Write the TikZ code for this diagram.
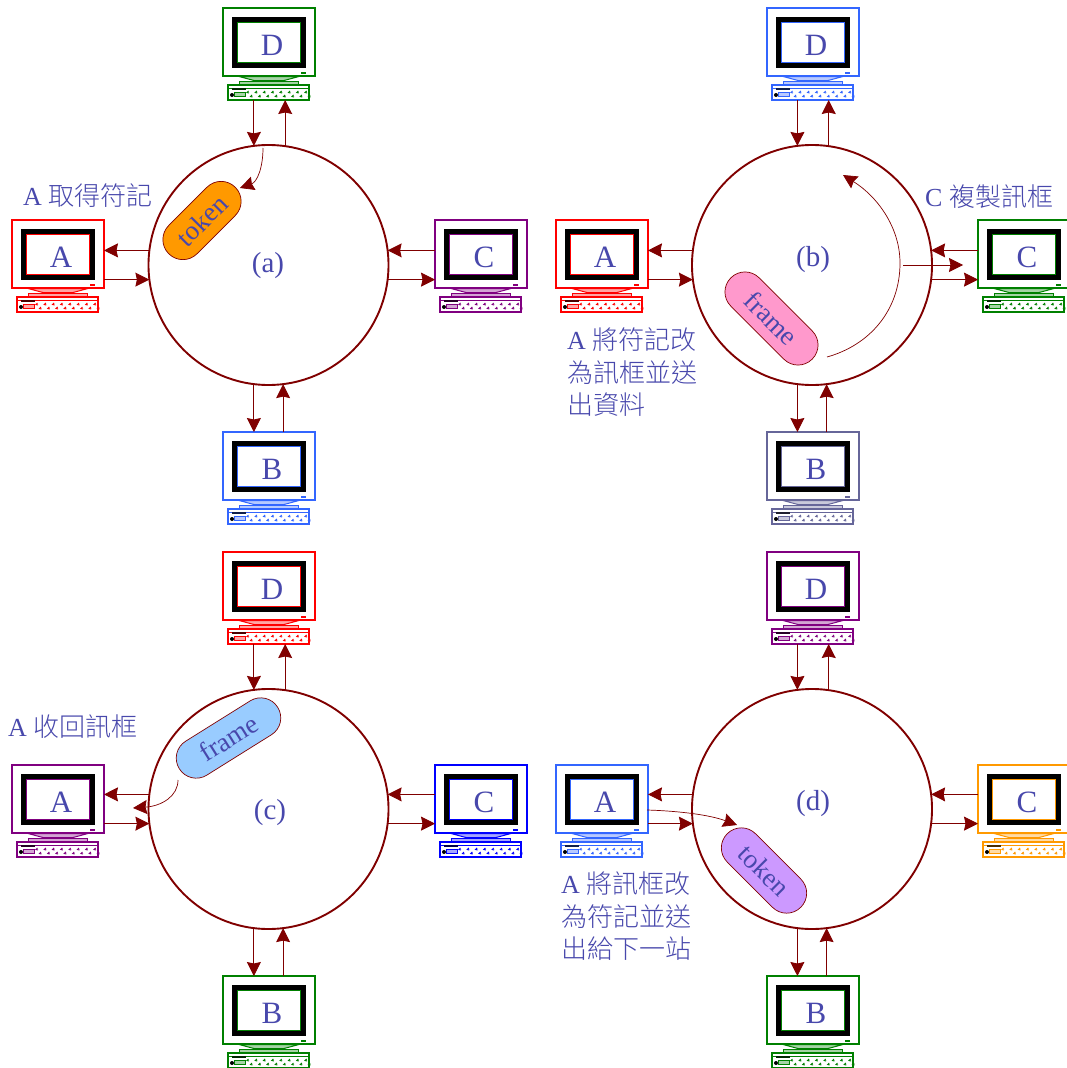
\documentclass[tikz,border=0pt]{standalone}
\usepackage{fontspec}
\setmainfont{Liberation Serif}
\IfFontExistsTF{Noto Sans CJK TC Light}{\newfontfamily\cjk{Noto Sans CJK TC Light}}{\newfontfamily\cjk{Noto Sans CJK TC}}
\usetikzlibrary{arrows.meta}
\definecolor{linkred}{HTML}{800000}
\definecolor{inkblue}{HTML}{4848AC}
\definecolor{stblue}{HTML}{3366FF}
\definecolor{stgrey}{HTML}{666699}
\definecolor{stpurple}{HTML}{800080}
\definecolor{stgreen}{HTML}{008000}
\definecolor{storange}{HTML}{FF9900}
\definecolor{caporange}{HTML}{FF9900}
\definecolor{cappink}{HTML}{FF99CC}
\definecolor{capsky}{HTML}{99CCFF}
\definecolor{caplilac}{HTML}{CC99FF}
\tikzset{
  ringnode/.style={circle,draw=linkred,line width=1.9pt,minimum size=240pt,inner sep=0pt,outer sep=0pt},
  conn/.style={draw=linkred,line width=0.9pt,-{Stealth[length=14pt,width=14pt,inset=1.5pt]}},
  flow/.style={conn,line width=0.7pt},
  monitorbox/.style={rectangle,fill=white,line width=1.5pt,minimum width=92pt,minimum height=68pt,inner sep=0pt,outer sep=0pt},
  keybox/.style={rectangle,fill=white,line width=1.5pt,minimum width=81pt,minimum height=15pt,inner sep=0pt,outer sep=0pt},
  capsule/.style={rectangle,draw=linkred,line width=0.7pt,minimum height=40pt,rounded corners=19.9pt,inner sep=0pt,text=inkblue,font=\fontsize{27}{27}\selectfont},
  stationletter/.style={text=inkblue,inner sep=0pt,font=\fontsize{31}{31}\selectfont},
  paneltag/.style={text=inkblue,inner sep=0pt,font=\fontsize{29}{29}\selectfont},
  note/.style={text=inkblue,inner sep=0pt,anchor=west,align=left,font=\fontsize{26}{32.5}\selectfont},
}
\newcommand\station[5]{%
  \begin{scope}[shift={(#2,#3)}]
    \node[monitorbox,draw=#4] (#1) at (46,34) {};
    \fill[black] (8.5,8.5) rectangle (83,60);
    \draw[#4,fill=white,line width=1pt] (14,14) rectangle (77,54.5);
    \fill[#4] (78,64) rectangle (83,66);
    \draw[#4,line width=1pt,fill=#4!35] (16,68.5) -- (31,72.5) -- (61,72.5) -- (76,68.5) -- cycle;
    \draw[#4,line width=1pt,fill=#4!35] (16,73.5) rectangle (75,76);
    \node[keybox,draw=#4] (#1-k) at (45.5,84.5) {};
    \draw[#4,line width=0.8pt] (5,80.5) -- (86,80.5);
    \fill[black!70!#4] (9,80) rectangle (23,81.5);
    \fill[black] (9,87) circle (2);
    \draw[#4,line width=0.7pt,fill=#4!35] (11,84) rectangle (22,88.5);
    \foreach \kx in {24,32.3,...,84}{
      \draw[#4,line width=1pt] (\kx+1.5,83) -- (\kx,84.5) -- (\kx+2,85);
      \draw[#4,line width=1pt] (\kx+5,87) -- (\kx+3.5,88.5) -- (\kx+5.5,89);
    }
    \node[stationletter] (#1-l) at (49,37.5) {#5};
  \end{scope}}
\newcommand\ringlinks[2]{%
  \draw[conn] (#1-D-k.south -| #1-r.#2) -- (#1-r.#2);
  \draw[conn] (#1-r.82.82) -- (#1-D-k.south -| #1-r.82.82);
  \draw[conn] (#1-r.263.2) -- (#1-B.north -| #1-r.263.2);
  \draw[conn] (#1-B.north -| #1-r.277.18) -- (#1-r.277.18);
  \draw[conn] (#1-r.173.3) -- (#1-r.173.3 -| #1-A.east);
  \draw[conn] (#1-r.187.4 -| #1-A.east) -- (#1-r.187.4);
  \draw[conn] (#1-r.7 -| #1-C.west) -- (#1-r.7);
  \draw[conn] (#1-r.-7.4) -- (#1-r.-7.4 -| #1-C.west);}
\begin{document}
\begin{tikzpicture}[x=1pt,y=-1pt]
\useasboundingbox (0,0) rectangle (1067,1068);
\clip (0,0) rectangle (1067,1068);
% panel a
\node[ringnode] (a-r) at (268.5,265) {};
\node[paneltag] (a-t) at (268,266) {(a)};
\station{a-A}{12}{220}{red}{A}
\station{a-C}{435}{220}{stpurple}{C}
\station{a-D}{223}{8}{stgreen}{D}
\station{a-B}{223}{432}{stblue}{B}
\ringlinks{a}{97}
\node[capsule,fill=caporange,minimum width=94pt,rotate=45] (a-c) at (202,220.5) {token};
\coordinate (a-s) at (263,148);
\coordinate (a-e) at (240,188);
\draw[flow] (a-s) .. controls (263,168) and (257,182) .. (a-e);
\node[note] (a-n) at (23,196) {A {\cjk 取得符記}};
% panel b
\node[ringnode] (b-r) at (812,265) {};
\node[paneltag] (b-t) at (813,260) {(b)};
\station{b-A}{556}{220}{red}{A}
\station{b-C}{978}{220}{stgreen}{C}
\station{b-D}{767}{8}{stblue}{D}
\station{b-B}{767}{432}{stgrey}{B}
\ringlinks{b}{97.18}
\node[capsule,fill=cappink,minimum width=115pt,rotate=-45] (b-c) at (771.5,318.5) {frame};
\coordinate (b-s) at (827,357);
\coordinate (b-m) at (900,263);
\coordinate (b-e) at (843,175);
\draw[flow] (b-s) .. controls (870,345) and (900,310) .. (b-m) .. controls (900,228) and (878,197) .. (b-e);
\coordinate (b-x) at (903,265);
\coordinate (b-y) at (963,265);
\draw[flow] (b-x) -- (b-y);
\node[note] (b-n) at (925,197) {C {\cjk 複製訊框}};
\node[note] (b-m2) at (567,372.5) {A {\cjk 將符記改}\\{\cjk 為訊框並送}\\{\cjk 出資料}};
% panel c
\node[ringnode] (c-r) at (268.5,809) {};
\node[paneltag] (c-t) at (270,813) {(c)};
\station{c-A}{12}{765}{stpurple}{A}
\station{c-C}{435}{765}{blue}{C}
\station{c-D}{223}{552}{red}{D}
\station{c-B}{223}{976}{stgreen}{B}
\ringlinks{c}{97}
\node[capsule,fill=capsky,minimum width=116pt,rotate=32] (c-c) at (228.5,738) {frame};
\coordinate (c-s) at (178,780);
\coordinate (c-e) at (133,808);
\draw[flow] (c-s) .. controls (178,796) and (162,806) .. (c-e);
\node[note] (c-n) at (8,727) {A {\cjk 收回訊框}};
% panel d
\node[ringnode] (d-r) at (812,809) {};
\node[paneltag] (d-t) at (813,804) {(d)};
\station{d-A}{556}{765}{stblue}{A}
\station{d-C}{978}{765}{storange}{C}
\station{d-D}{767}{552}{stpurple}{D}
\station{d-B}{767}{976}{stgreen}{B}
\ringlinks{d}{97.18}
\node[capsule,fill=caplilac,minimum width=104pt,rotate=-45] (d-c) at (764,870.5) {token};
\coordinate (d-s) at (647,810);
\coordinate (d-e) at (737,825);
\draw[flow] (d-s) .. controls (680,811) and (710,815) .. (d-e);
\node[note] (d-n) at (561,916.5) {A {\cjk 將訊框改}\\{\cjk 為符記並送}\\{\cjk 出給下一站}};
\end{tikzpicture}
\end{document}
